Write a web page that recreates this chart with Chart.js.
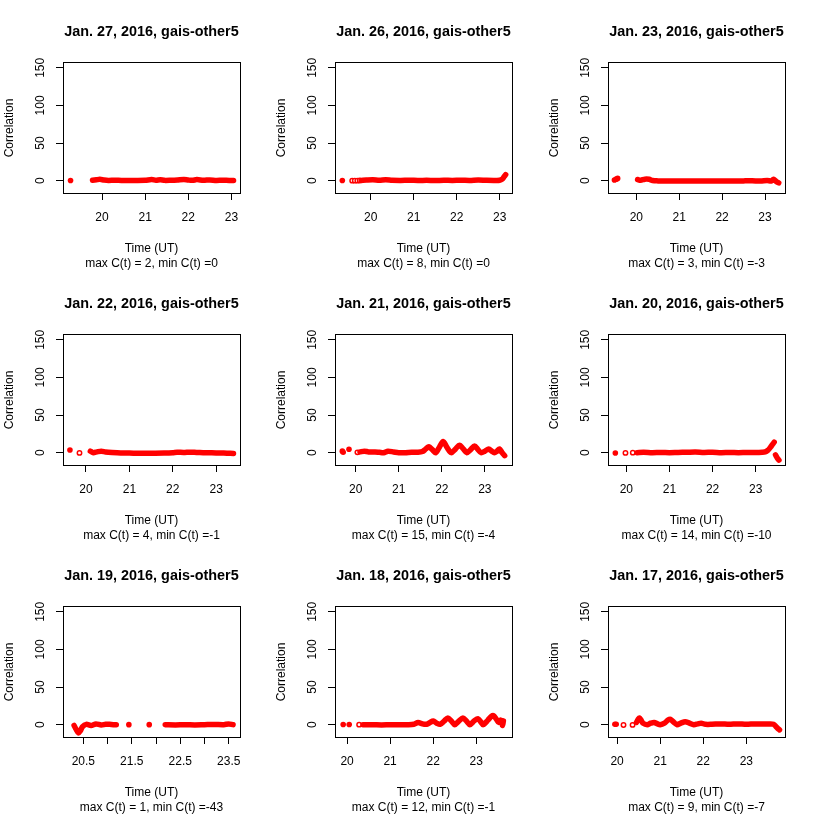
<!DOCTYPE html>
<html>
<head>
<meta charset="utf-8">
<script src="https://cdn.jsdelivr.net/npm/chart.js@4.4.1/dist/chart.umd.min.js"></script>
<style>
html,body{margin:0;padding:0;background:#fff;}
#wrap{position:relative;width:817px;height:817px;background:#fff;overflow:hidden;}
#wrap canvas{position:absolute;}
</style>
</head>
<body>
<div id="wrap"></div>
<script>
// ---------- text / axis definitions ----------
const panelTitles = [
  "Jan. 27, 2016, gais-other5", "Jan. 26, 2016, gais-other5", "Jan. 23, 2016, gais-other5",
  "Jan. 22, 2016, gais-other5", "Jan. 21, 2016, gais-other5", "Jan. 20, 2016, gais-other5",
  "Jan. 19, 2016, gais-other5", "Jan. 18, 2016, gais-other5", "Jan. 17, 2016, gais-other5"
];
const panelNotes = [
  "max C(t) = 2, min C(t) =0", "max C(t) = 8, min C(t) =0", "max C(t) = 3, min C(t) =-3",
  "max C(t) = 4, min C(t) =-1", "max C(t) = 15, min C(t) =-4", "max C(t) = 14, min C(t) =-10",
  "max C(t) = 1, min C(t) =-43", "max C(t) = 12, min C(t) =-1", "max C(t) = 9, min C(t) =-7"
];
const xAxisTitle = "Time (UT)";
const yAxisTitle = "Correlation";
const xLimits = [
  [19.095, 23.2], [19.17, 23.287], [19.34, 23.466],
  [19.47, 23.55], [19.52, 23.63], [19.575, 23.68],
  [20.081, 23.733], [19.72, 23.83], [19.79, 23.897]
];
const hourTicks = [20, 21, 22, 23];
const hourTickLabels = ["20", "21", "22", "23"];
const halfHourTicks = [20.5, 21, 21.5, 22, 22.5, 23, 23.5];
const halfHourTickLabels = ["20.5", "", "21.5", "", "22.5", "", "23.5"];
const yTicks = [0, 50, 100, 150];
const yTickLabels = ["0", "50", "100", "150"];
const yLimits = [-16.4, 156.4];

// ---------- series: [time (UT), correlation] ----------
const jan27Line = [[19.78,0.5],[19.87,1.2],[19.95,1.8],[20.05,0.8],[20.15,0.3],[20.3,0.6],[20.45,0.2],[20.6,0.3],[20.8,0.2],[21.0,0.4],[21.15,1.5],[21.25,0.6],[21.35,1.2],[21.45,0.4],[21.6,0.6],[21.75,1.0],[21.9,1.6],[22.0,0.8],[22.1,0.4],[22.2,1.4],[22.35,0.5],[22.5,1.0],[22.65,0.3],[22.8,0.6],[22.95,0.2],[23.05,0.3]];
const jan27Dots = [[19.27,0.2]];
const jan27Rings = [];

const jan26Line = [[19.78,0.3],[19.9,0.8],[20.05,1.2],[20.2,0.6],[20.35,1.2],[20.5,0.5],[20.7,0.3],[20.9,0.6],[21.1,0.2],[21.3,0.4],[21.5,0.2],[21.7,0.5],[21.9,0.3],[22.1,0.6],[22.3,0.3],[22.5,0.8],[22.7,0.4],[22.9,0.3],[23.0,0.5],[23.06,2],[23.1,5],[23.14,8]];
const jan26Dots = [[19.34,0.2]];
const jan26Rings = [[19.57,0],[19.63,0],[19.69,0],[19.745,0.2]];

const jan23Line = [[20.03,1.5],[20.1,0.5],[20.2,2],[20.3,1.8],[20.38,0.2],[20.5,-0.3],[20.7,-0.5],[20.9,-0.3],[21.1,-0.6],[21.3,-0.3],[21.5,-0.5],[21.7,-0.4],[21.9,-0.6],[22.1,-0.3],[22.3,-0.5],[22.5,-0.3],[22.7,-0.2],[22.9,-0.5],[23.05,0.3],[23.15,-0.5],[23.2,2],[23.27,-1.5],[23.32,-3]];
const jan23Dots = [[19.49,0.8],[19.53,2],[19.565,3]];
const jan23Rings = [];

const jan22Line = [[20.1,2],[20.17,0],[20.25,1],[20.35,2],[20.45,1],[20.6,0.2],[20.8,-0.5],[21.0,-0.5],[21.2,-0.8],[21.4,-0.7],[21.6,-0.7],[21.8,-0.5],[22.0,0],[22.1,0.6],[22.25,0.2],[22.4,0.7],[22.55,0.3],[22.7,0],[22.9,-0.2],[23.1,-0.5],[23.25,-0.7],[23.4,-1]];
const jan22Dots = [[19.63,3.5]];
const jan22Rings = [[19.85,-0.3]];

const jan21Line = [[20.1,1],[20.2,2],[20.3,1],[20.45,1],[20.55,0.5],[20.65,0],[20.75,2],[20.88,1],[21.0,0],[21.15,0],[21.3,0.5],[21.45,0.5],[21.55,1.5],[21.63,5],[21.7,8],[21.78,4],[21.86,0],[21.95,8],[22.03,15],[22.12,7],[22.22,0],[22.32,5],[22.41,10],[22.5,5],[22.58,0],[22.67,4],[22.76,9],[22.84,4],[22.91,0],[23.0,2],[23.09,5],[23.16,2],[23.22,0],[23.28,2],[23.34,5],[23.4,0],[23.46,-4]];
const jan21Dots = [[19.69,2],[19.71,0.5],[19.845,4.5]];
const jan21Rings = [[20.04,0.4]];

const jan20Line = [[20.25,0],[20.4,0.5],[20.6,0],[20.8,0.3],[21.0,0],[21.2,0.3],[21.4,0.5],[21.6,0.8],[21.8,0.3],[22.0,0.5],[22.2,0],[22.4,0.3],[22.6,0],[22.8,0.3],[23.0,0.2],[23.15,0.5],[23.22,1],[23.28,3],[23.34,7],[23.39,11],[23.43,14]];
const jan20Tail = [[23.46,-3],[23.5,-7],[23.54,-10]];
const jan20Dots = [[19.745,-0.4]];
const jan20Rings = [[19.98,-0.3],[20.15,0]];

const jan19Line = [[20.31,-1],[20.35,-6],[20.4,-11],[20.44,-8],[20.48,-3],[20.56,0.4],[20.66,-1],[20.76,1],[20.87,-0.5],[20.96,0.5],[21.04,0.4],[21.12,0],[21.18,0]];
const jan19Tail = [[22.19,0],[22.4,-0.3],[22.6,0],[22.8,-0.3],[23.0,0],[23.2,0.3],[23.4,0],[23.5,1],[23.59,0]];
const jan19Dots = [[21.44,0],[21.86,0]];
const jan19Rings = [];

const jan18Line = [[20.37,0],[20.6,0],[20.8,-0.3],[21.0,0],[21.2,0],[21.4,0],[21.55,0.5],[21.65,3],[21.75,1],[21.85,0.5],[21.93,3],[22.0,5],[22.08,2],[22.16,0.5],[22.26,5],[22.34,9],[22.42,5],[22.5,0],[22.6,5],[22.69,9],[22.77,5],[22.85,0],[22.95,5],[23.04,8],[23.1,4],[23.16,0],[23.27,6],[23.35,11],[23.4,12],[23.47,7],[23.52,3],[23.56,6],[23.59,4],[23.61,-1],[23.63,5]];
const jan18Dots = [[19.91,0.3],[20.05,0.3]];
const jan18Rings = [[20.28,0]];

const jan17Line = [[20.45,3],[20.49,7],[20.52,9],[20.56,6],[20.6,2],[20.7,0],[20.78,2],[20.86,3],[20.94,1],[21.0,0],[21.1,2],[21.18,6],[21.24,7],[21.32,3],[21.39,0],[21.48,2],[21.58,4],[21.68,2],[21.78,0],[21.87,1],[21.95,2],[22.05,0.5],[22.2,0.5],[22.4,1],[22.6,0.5],[22.8,1],[23.0,0.5],[23.2,1],[23.4,0.8],[23.55,1],[23.63,0.5],[23.68,-2],[23.73,-5],[23.77,-7]];
const jan17Dots = [[19.95,0.5],[19.98,0.5]];
const jan17Rings = [[20.15,-0.5],[20.36,-0.3]];

// panel assembly (order = reading order of the grid)
const panelLines = [[jan27Line],[jan26Line],[jan23Line],[jan22Line],[jan21Line],[jan20Line, jan20Tail],[jan19Line, jan19Tail],[jan18Line],[jan17Line]];
const panelDots = [jan27Dots, jan26Dots, jan23Dots, jan22Dots, jan21Dots, jan20Dots, jan19Dots, jan18Dots, jan17Dots];
const panelRings = [jan27Rings, jan26Rings, jan23Rings, jan22Rings, jan21Rings, jan20Rings, jan19Rings, jan18Rings, jan17Rings];
const panelXTicks = [hourTicks, hourTicks, hourTicks, hourTicks, hourTicks, hourTicks, halfHourTicks, hourTicks, hourTicks];
const panelXTickLabels = [hourTickLabels, hourTickLabels, hourTickLabels, hourTickLabels, hourTickLabels, hourTickLabels, halfHourTickLabels, hourTickLabels, hourTickLabels];

// ---------- drawing ----------
const FONT = '"Liberation Sans", Arial, Helvetica, sans-serif';
const RED = '#ff0000';
const toXY = arr => arr.map(p => ({x: p[0], y: p[1]}));

const framePlugin = {
  id: 'rframe',
  afterDraw(chart, args, opts) {
    const {ctx, chartArea: ca} = chart;
    const i = opts.idx;
    const cx = (ca.left + ca.right) / 2;
    ctx.save();
    ctx.strokeStyle = '#000';
    ctx.lineWidth = 1;
    ctx.strokeRect(Math.round(ca.left) + 0.5, Math.round(ca.top) - 0.5, Math.round(ca.right - ca.left), Math.round(ca.bottom - ca.top) + 1);
    ctx.fillStyle = '#000';
    ctx.textAlign = 'center';
    ctx.textBaseline = 'middle';
    ctx.font = 'bold 14.4px ' + FONT;
    ctx.fillText(panelTitles[i], cx, 32.5);
    ctx.font = '12px ' + FONT;
    ctx.fillText(xAxisTitle, cx, 248.5);
    ctx.fillText(panelNotes[i], cx, 264);
    ctx.translate(10, (ca.top + ca.bottom) / 2);
    ctx.rotate(-Math.PI / 2);
    ctx.fillText(yAxisTitle, 0, 0);
    ctx.restore();
  }
};

const wrap = document.getElementById('wrap');
const colLeft = [0, 272, 545];
const rowTop = [0, 272, 544];

for (let i = 0; i < 9; i++) {
  const cv = document.createElement('canvas');
  cv.width = 272; cv.height = 273;
  cv.style.left = colLeft[i % 3] + 'px';
  cv.style.top = rowTop[Math.floor(i / 3)] + 'px';
  cv.style.width = '272px'; cv.style.height = '273px';
  wrap.appendChild(cv);

  const datasets = [];
  panelLines[i].forEach(seg => datasets.push({
    data: toXY(seg), showLine: true, borderColor: RED, borderWidth: 5.5,
    pointRadius: 0, tension: 0.3, borderCapStyle: 'round', borderJoinStyle: 'round'
  }));
  datasets.push({
    data: toXY(panelDots[i]), showLine: false, pointRadius: 2.8,
    pointBackgroundColor: RED, pointBorderColor: RED, pointBorderWidth: 0
  });
  datasets.push({
    data: toXY(panelRings[i]), showLine: false, pointRadius: 2.2,
    pointBackgroundColor: '#fff', pointBorderColor: RED, pointBorderWidth: 1.5
  });

  const xt = panelXTicks[i], xl = panelXTickLabels[i];
  new Chart(cv, {
    type: 'scatter',
    data: {datasets},
    options: {
      responsive: false, animation: false, devicePixelRatio: 1,
      layout: {padding: {left: 0, right: 32, top: 63, bottom: 0}},
      plugins: {legend: {display: false}, tooltip: {enabled: false}, rframe: {idx: i}},
      scales: {
        x: {
          type: 'linear', min: xLimits[i][0], max: xLimits[i][1],
          afterFit(s) { s.height = 80; },
          afterBuildTicks(s) { s.ticks = xt.map(v => ({value: v})); },
          border: {display: false},
          grid: {drawOnChartArea: false, drawTicks: true, tickLength: 7, color: '#000', lineWidth: 1},
          ticks: {autoSkip: false, minRotation: 0, maxRotation: 0, padding: 10, color: '#000',
                  font: {family: FONT, size: 12}, callback: (v, idx) => xl[idx]}
        },
        y: {
          type: 'linear', min: yLimits[0], max: yLimits[1],
          afterFit(s) { s.width = 63; },
          afterBuildTicks(s) { s.ticks = yTicks.map(v => ({value: v})); },
          border: {display: false},
          grid: {drawOnChartArea: false, drawTicks: true, tickLength: 7, color: '#000', lineWidth: 1},
          ticks: {autoSkip: false, minRotation: 90, maxRotation: 90, crossAlign: 'center', padding: 5,
                  color: '#000', font: {family: FONT, size: 12}, callback: (v, idx) => yTickLabels[idx]}
        }
      }
    },
    plugins: [framePlugin]
  });
}
</script>
</body>
</html>
